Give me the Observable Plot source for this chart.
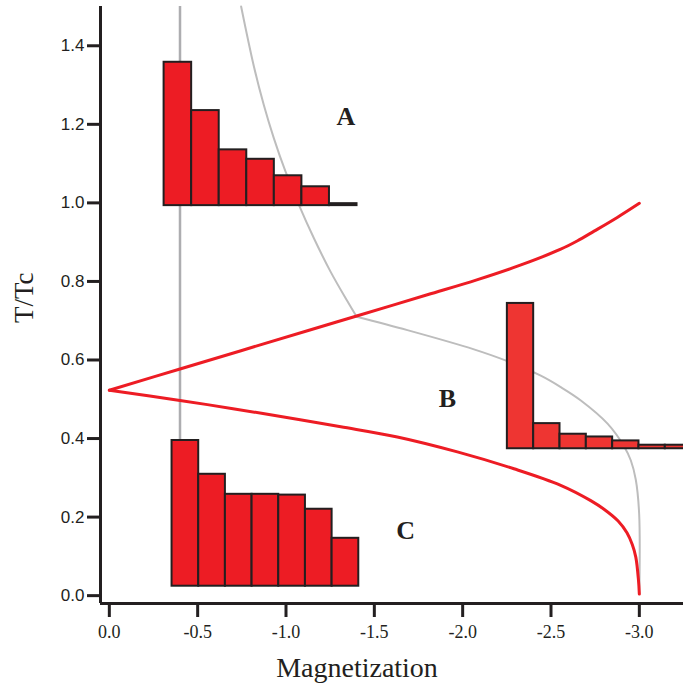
<!DOCTYPE html>
<html><head><meta charset="utf-8">
<script src="https://cdn.jsdelivr.net/npm/d3@7"></script>
<script src="https://cdn.jsdelivr.net/npm/@observablehq/plot@0.6"></script>
<style>body{margin:0;background:#fff;}</style>
</head><body><div id="chart"></div>
<script>
// ---- data ----
const xTicks = [0, -0.5, -1.0, -1.5, -2.0, -2.5, -3.0];
const yTicks = [0, 0.2, 0.4, 0.6, 0.8, 1.0, 1.2, 1.4];

// upper red branch
const upperM = [0, -0.40, -1.14, -1.40, -1.80, -2.08, -2.33, -2.555, -2.648, -2.744, -2.875, -3.0];
const upperT = [0.523, 0.577, 0.677, 0.712, 0.766, 0.804, 0.842, 0.882, 0.903, 0.928, 0.963, 0.999];
// lower red branch
const lowerM = [0, -0.40, -0.70, -1.08, -1.31, -1.63, -1.97, -2.29, -2.555, -2.725, -2.80, -2.88, -2.93, -2.96, -2.98, -2.995, -3.0];
const lowerT = [0.523, 0.497, 0.476, 0.448, 0.430, 0.404, 0.366, 0.323, 0.281, 0.242, 0.220, 0.190, 0.160, 0.130, 0.098, 0.040, 0.004];
// gray curve: steep upper part and lower part meeting at the crossing
const grayUpperM = [-0.746, -0.818, -0.874, -0.931, -0.997, -1.073, -1.158, -1.252, -1.347, -1.40];
const grayUpperT = [1.50, 1.348, 1.250, 1.165, 1.080, 0.995, 0.910, 0.825, 0.750, 0.710];
const grayLowerM = [-1.40, -1.687, -2.064, -2.253, -2.442, -2.555, -2.669, -2.82, -2.914, -2.952, -2.98, -2.999, -3.0];
const grayLowerT = [0.710, 0.676, 0.627, 0.597, 0.560, 0.531, 0.497, 0.438, 0.380, 0.344, 0.295, 0.208, 0.005];
// gray vertical line
const grayLineM = -0.4;

// inset histograms (bar heights)
const histA = [0.365, 0.242, 0.142, 0.118, 0.076, 0.048, 0.005];
const histB = [0.370, 0.064, 0.037, 0.030, 0.020, 0.009, 0.009];
const histC = [0.371, 0.285, 0.234, 0.234, 0.232, 0.196, 0.122];
// inset placement: [start M, bin width, base T]
const placeA = [-0.31, 0.156, 0.993];
const placeB = [-2.253, 0.149, 0.374];
const placeC = [-0.355, 0.151, 0.024];

const labelNames = ["A", "B", "C"];
const labelM = [-1.339, -1.914, -1.677];
const labelT = [1.220, 0.502, 0.166];

// ---- build ----
const red = "#ED1C24";
const redB = "#EE3532";
const gray = "#BDBDBD";
const grayRule = "#ADADB0";
const ink = "#231F20";
const serif = "Liberation Serif, Times New Roman, serif";
const sans = "Liberation Sans, Arial, sans-serif";

const toPts = (M, T) => M.map((m, i) => ({m, t: T[i]}));
const bins = (h, p) => h.map((v, i) => ({x1: p[0] - i * p[1], x2: p[0] - (i + 1) * p[1], y1: p[2], y2: p[2] + v}));
const xDomain = [0.05, -3.25];
const yDomain = [-0.02, 1.5];
const fmt = d => d.toFixed(1);

const chart = Plot.plot({
  width: 683, height: 693,
  marginTop: 6, marginBottom: 90, marginLeft: 100, marginRight: 0,
  x: {domain: xDomain, axis: null},
  y: {domain: yDomain, axis: null},
  style: {background: "white"},
  marks: [
    Plot.ruleX([grayLineM], {y1: placeC[2] + histC[0], y2: yDomain[1], stroke: grayRule, strokeWidth: 2.5}),
    Plot.line(toPts(grayUpperM, grayUpperT), {x: "m", y: "t", stroke: gray, strokeWidth: 2, curve: "catmull-rom"}),
    Plot.line(toPts(grayLowerM, grayLowerT), {x: "m", y: "t", stroke: gray, strokeWidth: 2, curve: "catmull-rom"}),
    Plot.line(toPts(upperM, upperT), {x: "m", y: "t", stroke: red, strokeWidth: 3, curve: "catmull-rom"}),
    Plot.line(toPts(lowerM, lowerT), {x: "m", y: "t", stroke: red, strokeWidth: 3, curve: "catmull-rom"}),
    Plot.rect(bins(histA, placeA), {x1: "x1", x2: "x2", y1: "y1", y2: "y2", fill: red, stroke: ink, strokeWidth: 2}),
    Plot.rect(bins(histB, placeB), {x1: "x1", x2: "x2", y1: "y1", y2: "y2", fill: redB, stroke: ink, strokeWidth: 2, clip: true}),
    Plot.rect(bins(histC, placeC), {x1: "x1", x2: "x2", y1: "y1", y2: "y2", fill: red, stroke: ink, strokeWidth: 2}),
    Plot.text(labelNames, {x: (d, i) => labelM[i], y: (d, i) => labelT[i], text: d => d, fontSize: 26, fontWeight: "bold", fontFamily: serif, fill: ink}),
    Plot.ruleX([xDomain[0]], {stroke: ink, strokeWidth: 3}),
    Plot.ruleY([yDomain[0]], {stroke: ink, strokeWidth: 3}),
    Plot.axisY(yTicks, {tickSize: 13, tickPadding: 3, strokeWidth: 3, color: ink, fontSize: 17, fontFamily: sans, tickFormat: fmt}),
    Plot.axisX(xTicks, {tickSize: 14, tickPadding: 8, strokeWidth: 3, color: ink, fontSize: 18, fontFamily: serif, tickFormat: fmt}),
    Plot.text(["Magnetization"], {frameAnchor: "bottom", dx: -35, dy: 73, fontSize: 28, fontFamily: serif, fill: ink}),
    Plot.text(["T/Tc"], {frameAnchor: "left", dx: -76, dy: 18, rotate: -90, fontSize: 27, fontFamily: serif, fill: ink})
  ]
});
document.getElementById("chart").appendChild(chart);
</script>
</body></html>
